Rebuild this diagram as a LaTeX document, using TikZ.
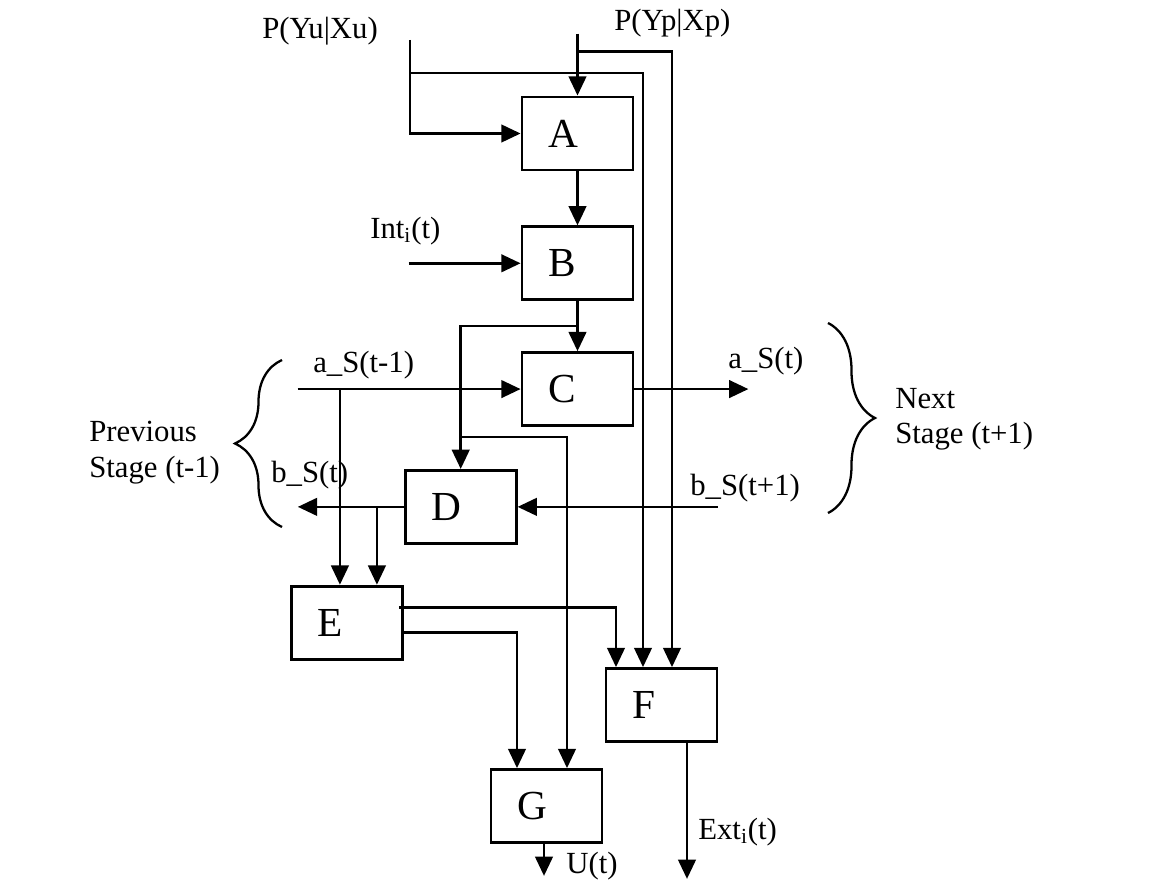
\documentclass[tikz,border=0pt]{standalone}
\usepackage{fontspec}
\setmainfont{Liberation Serif}
\usetikzlibrary{arrows.meta,positioning,calc,decorations.pathreplacing}

\begin{document}
\begin{tikzpicture}[
    x=0.02cm, y=-0.02cm,
    line width=1.5pt,
    every node/.style={font=\fontsize{17.5}{20}\selectfont},
    box/.style={draw, line width=1.6pt, minimum width=2.22cm, minimum height=1.46cm, inner xsep=0.52cm, text width=1.18cm, align=left, font=\fontsize{23.5}{26}\selectfont},
    lbl/.style={anchor=base west, inner sep=0pt},
    arr/.style={-{Triangle[length=11pt,width=10pt]}},
    stagebrace/.style={decorate, decoration={brace, amplitude=0.94cm}, line width=1.3pt}
]
\useasboundingbox (0,0) rectangle (1150,882);

% blocks
\node[box] (A) at (577.5,133.5) {A};
\node[box, below=1.08cm of A] (B) {B};
\node[box, below=1cm of B] (C) {C};
\node[box, below left=0.84cm and 0.06cm of C] (D) {D};
\node[box, below left=0.8cm and 0cm of D] (E) {E};
\node[box] (F) at (661.5,705) {F};
\node[box] (G) at (546.5,806) {G};

% free ends and taps
\coordinate (yuin) at (410,40);
\coordinate (yuknee) at (410,73);
\coordinate (ypin) at ($(A.north)+(0,-62)$);
\coordinate (ypknee) at ($(A.north)+(0,-44)$);
\coordinate (intin) at ($(B.west)+(-112,0)$);
\coordinate (aprev) at ($(C.west)+(-223,0)$);
\coordinate (anext) at ($(C.east)+(114,0)$);
\coordinate (bprev) at ($(D.west)+(-106,0)$);
\coordinate (bnext) at ($(D.east)+(200,0)$);
\coordinate (ein1) at ($(E.north)+(-7,0)$);
\coordinate (ein2) at ($(E.north)+(30,0)$);
\coordinate (eout1) at ($(E.east)+(-5,-15)$);
\coordinate (eout2) at ($(E.east)+(0,10)$);
\coordinate (fin1) at ($(F.north)+(-45.5,0)$);
\coordinate (fin2) at ($(F.north)+(-18.5,0)$);
\coordinate (fin3) at ($(F.north)+(10.5,0)$);
\coordinate (gin1) at ($(G.north)+(-29.5,0)$);
\coordinate (gin2) at ($(G.north)+(20.5,0)$);
\coordinate (fout) at ($(F.south)+(25.5,0)$);
\coordinate (gout) at ($(G.south)+(-2.5,0)$);
\coordinate (bcsplit) at ($(B.south)!0.5!(C.north)$);
\coordinate (dsplit) at ($(D.north)+(0,-32)$);

% connectors
\draw[arr] (yuin) |- (A.west);
\draw[arr] (yuknee) -| (fin2);
\draw[arr] (ypin) -- (A.north);
\draw[arr] (ypknee) -| (fin3);
\draw[arr] (A.south) -- (B.north);
\draw[arr] (intin) -- (B.west);
\draw[arr] (B.south) -- (C.north);
\draw[arr] (bcsplit) -| (D.north);
\draw[arr] (dsplit) -| (gin2);
\draw[arr] (aprev) -- (C.west);
\draw[arr] (ein1 |- C.west) -- (ein1);
\draw[arr] (C.east) -- (anext);
\draw[arr] (bnext) -- (D.east);
\draw[arr] (D.west) -- (bprev);
\draw[arr] (ein2 |- D.west) -- (ein2);
\draw[arr] (eout1) -| (fin1);
\draw[arr] (eout2) -| (gin1);
\draw[arr] (fout) -- ++(0,136);
\draw[arr] (gout) -- ++(0,32);

% stage braces
\draw[stagebrace] (282,527) -- (282,360);
\draw[stagebrace] (828,323) -- (828,513);

% labels
\node[lbl] (yulbl) at (261,39) {P(Yu|Xu)};
\node[lbl] (yplbl) at (613,31) {P(Yp|Xp)};
\node[lbl] (intlbl) at (369,238) {Int\textsubscript{i}(t)};
\node[lbl] (aprevlbl) at (312,372) {a\_S(t-1)};
\node[lbl] (bprevlbl) at (270,482) {b\_S(t)};
\node[lbl] (anextlbl) at (727,368) {a\_S(t)};
\node[lbl] (bnextlbl) at (689,495) {b\_S(t+1)};
\node[lbl] (prevlbl) at (88,441) {Previous};
\node[lbl] (prevlbl2) at (88,477) {Stage (t-1)};
\node[lbl] (nextlbl) at (894,408) {Next};
\node[lbl] (nextlbl2) at (894,443) {Stage (t+1)};
\node[lbl] (extlbl) at (697,839) {Ext\textsubscript{i}(t)};
\node[lbl] (ulbl) at (565,873) {U(t)};
\end{tikzpicture}
\end{document}
